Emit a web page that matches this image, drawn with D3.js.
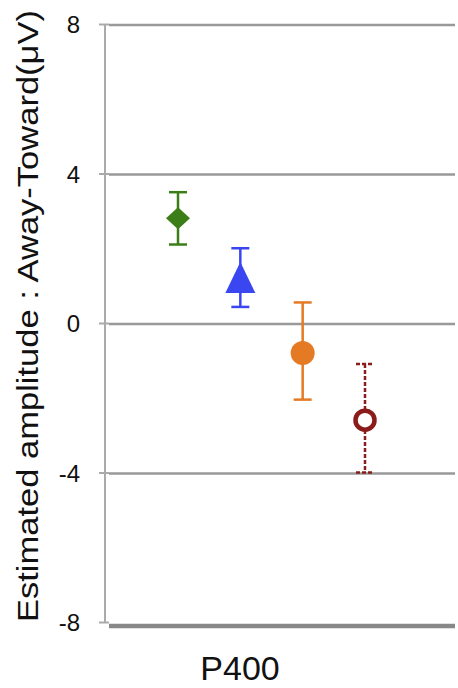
<!DOCTYPE html>
<html><head><meta charset="utf-8">
<script src="https://cdn.jsdelivr.net/npm/d3@7"></script>
<style>body{margin:0;background:#fff}svg{display:block}</style>
</head><body>
<script>
const conditions = ["cond1","cond2","cond3","cond4"];
const means = [2.8, 1.1, -0.8, -2.6];
const upper = [3.5, 2.0, 0.55, -1.1];
const lower = [2.1, 0.43, -2.05, -4.0];
const colors = ["#3b7d17","#3a46f0","#e57a25","#8b1c1c"];
const shapes = ["diamond","triangle","circle","open"];
const yTicks = [-8,-4,0,4,8];
const xLabel = "P400";
const yLabel = "Estimated amplitude : Away-Toward(\u03bcV)";

const W=458,H=688;
const font="Liberation Sans, Arial, sans-serif";
const svg=d3.select("body").append("svg").attr("width",W).attr("height",H);
const y=d3.scaleLinear().domain([-8,8]).range([622,24]);
const x=d3.scalePoint().domain(conditions).range([178,365]);

// gridlines
svg.append("g").selectAll("line").data(yTicks.filter(t=>t>-8)).join("line")
  .attr("x1",109).attr("x2",455).attr("y1",d=>y(d)+1).attr("y2",d=>y(d)+1)
  .attr("stroke","#999").attr("stroke-width",2.5);
// bottom axis line
svg.append("line").attr("x1",109).attr("x2",455).attr("y1",y(-8)+4).attr("y2",y(-8)+4)
  .attr("stroke","#888").attr("stroke-width",4.5);

// y axis
const ax=svg.append("g").attr("transform","translate(105,0)")
  .call(d3.axisLeft(y).tickValues(yTicks).tickSize(6).tickPadding(19).tickFormat(d=>String(d)));
ax.select(".domain").attr("stroke","#aaa").attr("stroke-width",2).attr("d","M0,"+y(8)+"V"+y(-8));
ax.selectAll(".tick line").attr("stroke","#aaa").attr("stroke-width",2).attr("x2",4).attr("x1",-6);
ax.selectAll("text").attr("font-family",font).attr("font-size",24).attr("fill","#111").attr("dy","0.36em");

// y label
svg.append("text").attr("transform","translate(38,316) rotate(-90)")
  .attr("text-anchor","middle").attr("font-family",font)
  .attr("font-size",30).attr("fill","#111")
  .attr("textLength",612).attr("lengthAdjust","spacingAndGlyphs").text(yLabel);
// x label
svg.append("text").attr("x",240).attr("y",680).attr("text-anchor","middle")
  .attr("font-family",font).attr("font-size",34).attr("fill","#111").text(xLabel);

// error bars
const data=conditions.map((c,i)=>({c,m:means[i],u:upper[i],l:lower[i],col:colors[i],s:shapes[i]}));
const eb=svg.append("g").selectAll("g").data(data).join("g");
eb.append("line").attr("x1",d=>x(d.c)).attr("x2",d=>x(d.c)).attr("y1",d=>y(d.u)).attr("y2",d=>y(d.l))
  .attr("stroke",d=>d.col).attr("stroke-width",2.5).attr("stroke-dasharray",d=>d.s==="open"?"4,2":null);
["u","l"].forEach(k=>{
  eb.append("line").attr("x1",d=>x(d.c)-9).attr("x2",d=>x(d.c)+9).attr("y1",d=>y(d[k])).attr("y2",d=>y(d[k]))
    .attr("stroke",d=>d.col).attr("stroke-width",2.5).attr("stroke-dasharray",d=>d.s==="open"?"4,2":null);
});
// markers
eb.each(function(d){
  const g=d3.select(this), cx=x(d.c), cy=y(d.m);
  if(d.s==="diamond"){
    g.append("path").attr("d",`M${cx},${cy-11}L${cx+12},${cy}L${cx},${cy+11}L${cx-12},${cy}Z`).attr("fill",d.col);
  } else if(d.s==="triangle"){
    g.append("path").attr("d",`M${cx},${cy-20}L${cx+15},${cy+11}L${cx-15},${cy+11}Z`).attr("fill",d.col);
  } else if(d.s==="circle"){
    g.append("circle").attr("cx",cx).attr("cy",cy).attr("r",12).attr("fill",d.col);
  } else {
    g.append("circle").attr("cx",cx).attr("cy",cy).attr("r",9.5).attr("fill","#fff").attr("stroke",d.col).attr("stroke-width",4.5);
  }
});
</script>
</body></html>
